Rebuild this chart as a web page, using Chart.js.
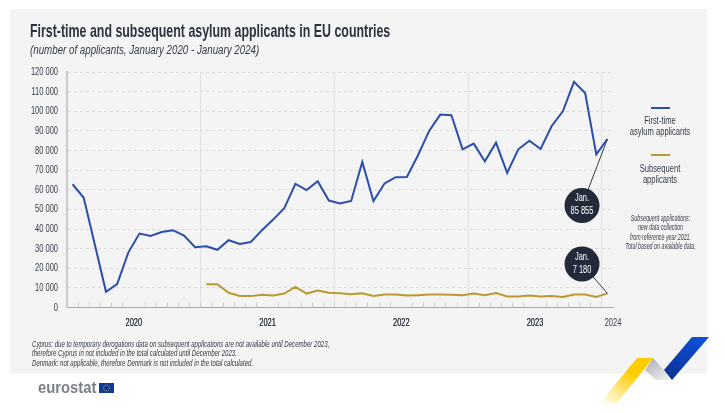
<!DOCTYPE html>
<html>
<head>
<meta charset="utf-8">
<script src="https://cdn.jsdelivr.net/npm/chart.js"></script>
<style>
  html, body { margin: 0; padding: 0; background: #fff; }
  body { width: 725px; height: 413px; position: relative; overflow: hidden; font-family: "Liberation Sans", sans-serif; color: #333a45; }
  #panel { position: absolute; left: 10px; top: 9px; width: 697px; height: 365px; background: #f4f4f4; }
  canvas { position: absolute; left: 0; top: 0; }
  .txt { position: absolute; white-space: nowrap; }
  #title { left: 30px; top: 20px; font-size: 18.5px; font-weight: bold; color: #2c3340; transform: scaleX(0.67); transform-origin: left center; }
  #subtitle { left: 30px; top: 43px; font-size: 12.5px; font-style: italic; transform: scaleX(0.78); transform-origin: left center; }
  .leg { text-align: center; font-size: 11.5px; line-height: 11px; width: 120px; left: 600px; transform: scaleX(0.66); transform-origin: center; }
  .swatch { position: absolute; left: 651px; width: 19px; height: 2px; }
  #note { left: 600px; top: 214px; width: 121px; text-align: center; font-size: 9px; font-style: italic; line-height: 9.3px; transform: scaleX(0.59); transform-origin: center; }
  #foot { left: 32px; top: 339px; font-size: 9.6px; font-style: italic; line-height: 9.4px; transform: scaleX(0.635); transform-origin: left center; }
  #logo { left: 38px; top: 378px; font-size: 17px; font-weight: bold; color: #7b7f89; transform: scaleX(0.87); transform-origin: left center; }
  svg { position: absolute; left: 0; top: 0; }
</style>
</head>
<body>
<div id="panel"></div>
<svg width="725" height="413">
  <defs>
    <linearGradient id="gy" x1="0" y1="1" x2="0.55" y2="0.3"><stop offset="0" stop-color="#fff"/><stop offset="1" stop-color="#ffcc00"/></linearGradient>
    <linearGradient id="gg" x1="0" y1="0" x2="0.8" y2="1"><stop offset="0" stop-color="#a9abb0"/><stop offset="1" stop-color="#f0f0f0"/></linearGradient>
    <linearGradient id="gb" x1="0" y1="1" x2="0.7" y2="0"><stop offset="0" stop-color="#0a2f8f"/><stop offset="1" stop-color="#0f4fd6"/></linearGradient>
  </defs>
  <polygon points="637,358 653,358 617,403 600,403" fill="url(#gy)"/>
  <polygon points="653,358 664,370 672,380 656,380 645,370" fill="url(#gg)"/>
  <polygon points="692,337 709,337 672,380 664,370" fill="url(#gb)"/>
  <rect x="99" y="383" width="15" height="10" fill="#0f3a9c"/>
  <circle cx="106.500" cy="388" r="3" fill="none" stroke="#d9b821" stroke-width="1" stroke-dasharray="1 1"/>
</svg>
<canvas id="chart" width="725" height="413"></canvas>
<div class="txt" id="title">First-time and subsequent asylum applicants in EU countries</div>
<div class="txt" id="subtitle">(number of applicants, January 2020 - January 2024)</div>
<div class="swatch" style="top:107px;background:#2a4fa8"></div>
<div class="txt leg" style="top:115px">First-time<br>asylum applicants</div>
<div class="swatch" style="top:154px;background:#b99a2e"></div>
<div class="txt leg" style="top:163px">Subsequent<br>applicants</div>
<div class="txt" id="note">Subsequent applications:<br>new data collection<br>from reference year 2021.<br>Total based on available data.</div>
<div class="txt" id="foot">Cyprus: due to temporary derogations data on subsequent applications are not available until December 2023,<br>therefore Cyprus in not included in the total calculated until December 2023.<br>Denmark: not applicable, therefore Denmark is not included in the total calculated.</div>
<div class="txt" id="logo">eurostat</div>
<script>
// Valeurs, janvier 2020 - janvier 2024
const years = ['2020', '2021', '2022', '2023', '2024'];
const firstTime = [62800, 55900, 32000, 8000, 11900, 28000, 37700, 36500, 38500, 39400, 36700, 30700,
  31200, 29400, 34300, 32400, 33400, 39400, 44800, 50600, 63000, 59800, 64300, 54500,
  53000, 54300, 74200, 54200, 63200, 66400, 66500, 77600, 90000, 98300, 98000, 80600,
  83500, 74500, 84000, 68600, 80600, 85000, 80800, 92500, 100000, 115000, 109300, 78000,
  85855];
const subsequent = [null, null, null, null, null, null, null, null, null, null, null, null,
  11900, 11900, 7500, 5900, 5800, 6500, 6100, 7100, 10500, 7100, 8600, 7500,
  7300, 6800, 7300, 5900, 6600, 6600, 6100, 6300, 6600, 6600, 6500, 6300,
  7100, 6300, 7400, 5600, 5600, 6100, 5600, 5900, 5400, 6600, 6600, 5400,
  7180];

const FONT = '"Liberation Sans", sans-serif';
const toPoints = arr => arr.map((v, i) => ({ x: i, y: v }));

// repères de l'axe x : un par mois, et les libellés d'années centrés
const yearTicks = new Map();
years.forEach((y, k) => yearTicks.set(k === 4 ? 48.5 : k * 12 + 5.5, y));
const isYearLine = v => (v + 0.5) % 12 === 0 && v > 0 && v < 48;

// pas de police condensée installée : on resserre le texte du canvas
const canvas = document.getElementById('chart');
const ctx2d = canvas.getContext('2d');
const rawFillText = ctx2d.fillText.bind(ctx2d);
ctx2d.fillText = function (text, x, y) {
  ctx2d.save();
  ctx2d.translate(x, y);
  ctx2d.scale(0.68, 1);
  rawFillText(text, 0, 0);
  ctx2d.restore();
};

const callouts = {
  id: 'callouts',
  afterDatasetsDraw(chart) {
    const ctx = chart.ctx;
    const items = [
      { ds: 0, cx: 582, cy: 205.5, lines: ['Jan.', '85 855'] },
      { ds: 1, cx: 582, cy: 264, lines: ['Jan.', '7 180'] }
    ];
    items.forEach(it => {
      const pt = chart.getDatasetMeta(it.ds).data[48];
      ctx.save();
      ctx.strokeStyle = '#333a45';
      ctx.lineWidth = 1;
      ctx.beginPath();
      ctx.moveTo(it.cx, it.cy);
      ctx.lineTo(pt.x, pt.y);
      ctx.stroke();
      ctx.fillStyle = '#232b3a';
      ctx.beginPath();
      ctx.arc(it.cx, it.cy, 17.5, 0, Math.PI * 2);
      ctx.fill();
      ctx.fillStyle = '#fff';
      ctx.font = '11px ' + FONT;
      ctx.textAlign = 'center';
      ctx.textBaseline = 'middle';
      ctx.fillText(it.lines[0], it.cx, it.cy - 7.5);
      ctx.fillText(it.lines[1], it.cx, it.cy + 5.5);
      ctx.restore();
    });
  }
};

new Chart(canvas, {
  type: 'line',
  data: {
    datasets: [
      { label: 'First-time asylum applicants', data: toPoints(firstTime), borderColor: '#2a4fa8', borderWidth: 2, pointRadius: 0, tension: 0 },
      { label: 'Subsequent applicants', data: toPoints(subsequent), borderColor: '#b99a2e', borderWidth: 2, pointRadius: 0, tension: 0, spanGaps: false }
    ]
  },
  options: {
    responsive: false,
    animation: false,
    devicePixelRatio: 1,
    layout: { padding: { top: 72, right: 112, bottom: 0, left: 0 } },
    plugins: { legend: { display: false }, title: { display: false }, tooltip: { enabled: false } },
    scales: {
      x: {
        type: 'linear',
        min: -0.5,
        max: 48.5,
        afterBuildTicks(scale) {
          const ticks = [];
          for (let i = 0; i <= 49; i++) ticks.push({ value: i - 0.5 });
          yearTicks.forEach((label, v) => { if (v !== 48.5) ticks.push({ value: v }); });
          ticks.sort((a, b) => a.value - b.value);
          scale.ticks = ticks;
        },
        afterFit(scale) { scale.height = 105.5; },
        border: { color: '#a9abb0', width: 1 },
        grid: {
          drawTicks: true,
          tickLength: -5,
          tickWidth: 1,
          lineWidth: 1,
          color: ctx => (ctx.tick && isYearLine(ctx.tick.value) ? '#e0e0e0' : 'rgba(0,0,0,0)'),
          tickColor: ctx => (ctx.tick && !yearTicks.has(ctx.tick.value) ? '#cfcfcf' : 'rgba(0,0,0,0)')
        },
        ticks: {
          autoSkip: false,
          maxRotation: 0,
          padding: 14,
          color: '#333a45',
          font: { family: FONT, size: 11 },
          callback: v => yearTicks.get(v) || ''
        }
      },
      y: {
        min: 0,
        max: 120000,
        afterFit(scale) { scale.width = 67; },
        border: { color: '#c9c9cf', width: 2, dash: [3, 3] },
        grid: {
          drawTicks: false,
          color: ctx => (ctx.tick && ctx.tick.value === 0 ? 'rgba(0,0,0,0)' : '#dcdcdc'),
          lineWidth: 1
        },
        ticks: {
          stepSize: 10000,
          padding: 9,
          color: '#333a45',
          font: { family: FONT, size: 11 },
          callback: v => String(v).replace(/\B(?=(\d{3})+$)/g, ' ')
        }
      }
    }
  },
  plugins: [callouts]
});
</script>
</body>
</html>
